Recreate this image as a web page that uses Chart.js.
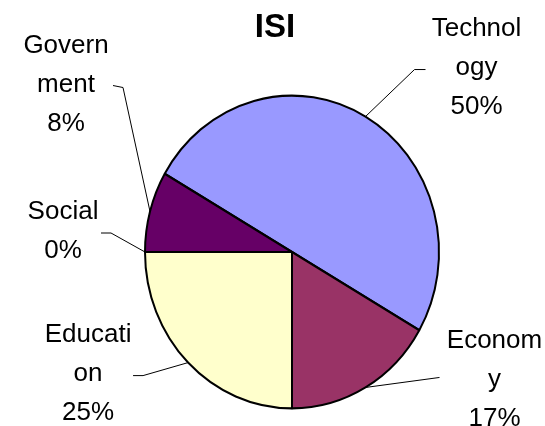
<!DOCTYPE html>
<html>
<head>
<meta charset="utf-8">
<script src="https://cdn.jsdelivr.net/npm/chart.js"></script>
<style>
    html, body { margin: 0; padding: 0; background: #fff; }
    #wrap { width: 545px; height: 426px; }
</style>
</head>
<body>
<div id="wrap"><canvas id="chart-isi"></canvas></div>
<script>
const kategori = ["Technology", "Economy", "Education", "Social", "Government"];
const jumlah = [6, 2, 3, 0, 1];
const teksLabel = [["Technol", "ogy"], ["Econom", "y"], ["Educati", "on"], ["Social"], ["Govern", "ment"]];
const warna = ["#9999FF", "#993366", "#FFFFCC", "#CCFFFF", "#660066"];

// offsets from the slice edge point: [elbow, leader end, text centre]
const posisiLabel = [
    [[49, -47], [60, -47], [111, -49]],
    [[74, -10], [74, -10], [129, -8]],
    [[-45, 13], [-55, 13], [-100, 11]],
    [[-34, -19], [-44, -19], [-82, -21]],
    [[-27, -124], [-37, -126], [-84, -127]],
];
const jarakBaris = 39;
// pie is drawn slightly taller than wide
const skalaY = 1.064;

const total = jumlah.reduce((a, b) => a + b, 0);

const labelPlugin = {
    id: "labelPie",
    beforeDatasetsDraw(chart) {
        const arc = chart.getDatasetMeta(0).data[0];
        const ctx = chart.ctx;
        ctx.save();
        ctx.translate(arc.x, arc.y);
        ctx.scale(1, skalaY);
        ctx.translate(-arc.x, -arc.y);
    },
    afterDatasetsDraw(chart) {
        const ctx = chart.ctx;
        ctx.restore();
        const arcs = chart.getDatasetMeta(0).data;
        ctx.save();

        // judul
        ctx.fillStyle = "#000";
        ctx.font = "bold 33px 'Liberation Sans', Arial, sans-serif";
        ctx.textAlign = "center";
        ctx.textBaseline = "middle";
        ctx.fillText("ISI", 275, 28);

        ctx.font = "26px 'Liberation Sans', Arial, sans-serif";
        arcs.forEach((arc, i) => {
            const mid = (arc.startAngle + arc.endAngle) / 2;
            const ex = arc.x + Math.cos(mid) * arc.outerRadius;
            const ey = arc.y + Math.sin(mid) * arc.outerRadius * skalaY;
            const [siku, ujung, pusat] = posisiLabel[i];

            ctx.strokeStyle = "#000";
            ctx.lineWidth = 1;
            ctx.beginPath();
            ctx.moveTo(ex, ey);
            ctx.lineTo(ex + siku[0], ey + siku[1]);
            ctx.lineTo(ex + ujung[0], ey + ujung[1]);
            ctx.stroke();

            const persen = Math.round(jumlah[i] / total * 100) + "%";
            const baris = [...teksLabel[i], persen];
            const y0 = ey + pusat[1] - (baris.length - 1) * jarakBaris / 2;
            baris.forEach((t, k) => {
                ctx.fillText(t, ex + pusat[0], y0 + k * jarakBaris);
            });
        });
        ctx.restore();
    },
};

const dataChartIsi = {
    labels: kategori,
    datasets: [
        {
            data: jumlah,
            backgroundColor: warna,
            borderColor: "#000",
            borderWidth: 2,
        },
    ],
};

const configIsi = {
    type: "pie",
    data: dataChartIsi,
    options: {
        responsive: true,
        maintainAspectRatio: false,
        animation: false,
        events: [],
        rotation: -60,
        layout: {
            padding: { top: 104, bottom: 26, left: 144, right: 105 },
        },
        plugins: {
            legend: { display: false },
            tooltip: { enabled: false },
        },
    },
    plugins: [labelPlugin],
};

new Chart(document.getElementById("chart-isi"), configIsi);
</script>
</body>
</html>
